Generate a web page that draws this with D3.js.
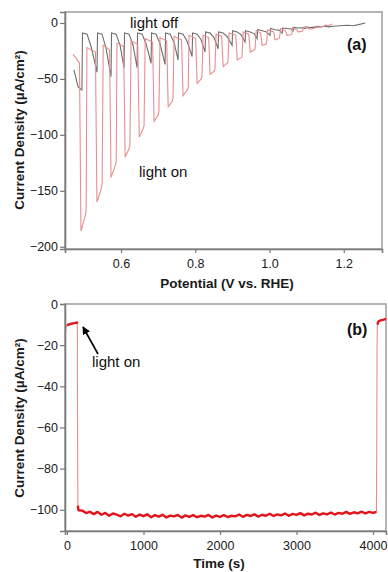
<!DOCTYPE html>
<html><head><meta charset="utf-8">
<script src="https://cdn.jsdelivr.net/npm/d3@7"></script>
<style>
body{margin:0;background:#fff;}
svg{display:block;font-family:"Liberation Sans",Arial,sans-serif;}
</style></head>
<body><svg id="c" width="388" height="572"></svg>
<script>
// ---------- Panel (a) data: potential (V vs RHE), current density (µA/cm²)
const lightChopped = [
[0.470,-28],[0.476,-30],[0.482,-33],[0.488,-36],
[0.492,-186],[0.503,-173],[0.506,-168],[0.508,-22],
[0.531,-26],[0.535,-160],[0.546,-149],[0.549,-144],[0.552,-20],
[0.569,-24],[0.573,-138],[0.584,-128],[0.587,-124],[0.589,-18],
[0.607,-21],[0.611,-120],[0.622,-112],[0.624,-108],[0.627,-16],
[0.645,-19],[0.649,-102],[0.659,-95],[0.662,-92],[0.665,-14],
[0.685,-17],[0.689,-88],[0.700,-82],[0.702,-79],[0.705,-13],
[0.723,-16],[0.727,-75],[0.738,-70],[0.740,-67],[0.743,-12],
[0.763,-15],[0.767,-65],[0.778,-60],[0.781,-58],[0.783,-11],
[0.801,-14],[0.805,-54],[0.816,-50],[0.818,-48],[0.821,-11],
[0.836,-13],[0.840,-46],[0.851,-43],[0.853,-41],[0.856,-10],
[0.871,-12],[0.875,-39],[0.886,-36],[0.888,-35],[0.891,-9],
[0.909,-11],[0.913,-33],[0.924,-31],[0.926,-30],[0.929,-8],
[0.944,-10],[0.948,-26],[0.959,-24],[0.961,-23],[0.964,-7],
[0.976,-9],[0.980,-20],[0.990,-19],[0.992,-18],[0.995,-6],
[1.011,-8],[1.015,-15],[1.025,-14],[1.027,-13],[1.030,-5],
[1.043,-7],[1.047,-11],[1.057,-10.5],[1.060,-10],[1.062,-4],
[1.073,-6],[1.077,-8],[1.087,-7.5],[1.089,-7],[1.092,-3.5],
[1.105,-5],[1.109,-5.5],[1.118,-5],[1.120,-5],[1.123,-3],
[1.132,-4],[1.136,-3.5],[1.145,-3],[1.147,-3],[1.150,-2],
[1.158,-2.5],[1.164,-1.5],[1.169,-1]
];
const darkCurve = [
[0.473,-42],[0.479,-50],[0.484,-57],[0.4945,-60],
[0.4962,-9],[0.5084,-10],[0.5192,-21],[0.5353,-44],
[0.5366,-9],[0.5488,-10],[0.5596,-22.7],[0.5730,-48],
[0.5743,-9],[0.5865,-10],[0.5973,-19.9],[0.6081,-40],
[0.6094,-9],[0.6216,-10],[0.6324,-19.9],[0.6431,-40],
[0.6444,-9],[0.6566,-10],[0.6674,-18.5],[0.6809,-36],
[0.6822,-9],[0.6944,-10],[0.7052,-18.8],[0.7186,-37],
[0.7199,-9],[0.7321,-10],[0.7429,-17.4],[0.7536,-33],
[0.7549,-9],[0.7671,-10],[0.7779,-16.4],[0.7914,-30],
[0.7927,-9],[0.8049,-10],[0.8157,-15],[0.8264,-26],
[0.8277,-8],[0.8399,-9],[0.8507,-13.3],[0.8615,-23],
[0.8628,-8],[0.8750,-9],[0.8858,-12.2],[0.8992,-20],
[0.9005,-7],[0.9127,-8],[0.9235,-10.5],[0.9342,-17],
[0.9355,-7],[0.9477,-8],[0.9585,-9.5],[0.9666,-14],
[0.9679,-6],[0.9801,-7],[0.9909,-7.8],[1.0016,-11],
[1.0029,-5],[1.0151,-6],[1.0259,-6.4],[1.0340,-9],
[1.0353,-4.5],[1.0475,-5],[1.0583,-5.4],[1.0636,-7],
[1.0649,-4],[1.0771,-4.5],[1.0879,-4.4],[1.0960,-5],
[1.0973,-3.5],[1.1095,-4],[1.1203,-3.7],[1.1256,-4],
[1.1269,-3],[1.139,-3.5],[1.150,-3],[1.160,-3.5],
[1.170,-3],[1.190,-2.5],[1.210,-2],[1.225,-2.5],[1.240,-1.5],[1.258,0]
];
const potentialTicks = [0.6, 0.8, 1.0, 1.2];
const currentTicksA = [0, -50, -100, -150, -200];

// ---------- Panel (b) data: time (s), current density (µA/cm²)
const chronoTime = [-25,-18,-10,0,20,50,80,110,130,135,138,142,150,
 200,250,300,350,400,450,500,550,600,650,700,750,800,850,900,950,1000,
 1050,1100,1150,1200,1250,1300,1350,1400,1450,1500,1550,1600,1650,1700,1750,1800,1850,1900,1950,2000,
 2050,2100,2150,2200,2250,2300,2350,2400,2450,2500,2550,2600,2650,2700,2750,2800,2850,2900,2950,3000,
 3050,3100,3150,3200,3250,3300,3350,3400,3450,3500,3550,3600,3650,3700,3750,3800,3850,3900,3950,4000,
 4030,4045,4050,4053,4058,4070,4100,4140,4170];
const chronoCurrent = [-20,-13,-11,-10.5,-10,-9.6,-9.4,-9.2,-9,-9.6,-60,-98,-100.2,
 -100.4,-101.6,-100.9,-102.1,-101.0,-102.4,-101.5,-102.9,-101.8,-102.3,-103.2,-101.9,-102.8,-102.1,-103.4,-102.3,-103.1,
 -102.2,-103.6,-102.6,-103.3,-102.4,-103.7,-102.8,-103.2,-102.5,-103.8,-102.7,-103.4,-102.6,-103.6,-102.9,-103.3,-102.5,-103.7,-102.8,-103.4,
 -102.6,-103.5,-102.9,-103.2,-102.3,-103.4,-102.5,-103.0,-102.2,-103.3,-102.4,-102.9,-101.9,-103.0,-102.2,-102.7,-101.8,-102.9,-102.0,-102.5,
 -101.6,-102.7,-101.9,-102.3,-101.4,-102.5,-101.7,-102.2,-101.3,-102.3,-101.5,-101.9,-101.0,-102.0,-101.2,-101.7,-100.9,-101.8,-101.0,-101.5,
 -101.2,-101.0,-60,-20,-10,-8.5,-8,-7.6,-7.2];
const timeTicks = [0, 1000, 2000, 3000, 4000];
const currentTicksB = [0, -20, -40, -60, -80, -100];

// ---------- drawing
const svg = d3.select("#c");
const axisColor = "#7a7a7a", frameColor = "#a3a3a3", textColor = "#1a1a1a";

function styleAxis(g){
  g.select(".domain").attr("stroke", axisColor).attr("stroke-width", 1.6);
  g.selectAll(".tick line").attr("stroke", axisColor).attr("stroke-width", 1.2);
  g.selectAll(".tick text").attr("fill", textColor).style("font-size", "12.5px")
    .style("font-family", '"Liberation Sans",Arial,sans-serif');
}

// Panel (a)
const A = {l:65, r:382, t:12, b:249};
const xA = d3.scaleLinear().domain([0.449, 1.303]).range([A.l, A.r]);
const yA = d3.scaleLinear().domain([-202, 9.8]).range([A.b, A.t]);
svg.append("rect").attr("x", A.l).attr("y", A.t).attr("width", A.r - A.l).attr("height", A.b - A.t)
  .attr("fill", "none").attr("stroke", frameColor).attr("stroke-width", 1.6);
const lineA = d3.line().x(d => xA(d[0])).y(d => yA(d[1]));
svg.append("path").datum(darkCurve).attr("d", lineA).attr("fill", "none")
  .attr("stroke", "#6e6e6e").attr("stroke-width", 1.1);
svg.append("path").datum(lightChopped).attr("d", lineA).attr("fill", "none")
  .attr("stroke", "#e88e8e").attr("stroke-width", 1.1);
svg.append("g").attr("transform", `translate(${A.l},0)`)
  .call(d3.axisLeft(yA).tickValues(currentTicksA).tickSize(5).tickPadding(2)).call(styleAxis);
svg.append("g").attr("transform", `translate(0,${A.b})`)
  .call(d3.axisBottom(xA).tickValues(potentialTicks).tickFormat(d3.format(".1f")).tickSize(4).tickPadding(6)).call(styleAxis);

svg.append("text").attr("x", 227).attr("y", 288).attr("text-anchor", "middle")
  .style("font-weight", "bold").style("font-size", "13.5px").attr("fill", textColor)
  .text("Potential (V vs. RHE)");
svg.append("text").attr("transform", "translate(24,130) rotate(-90)").attr("text-anchor", "middle")
  .style("font-weight", "bold").style("font-size", "13.5px").attr("fill", textColor)
  .text("Current Density (µA/cm²)");
svg.append("text").attr("x", 347).attr("y", 50).style("font-weight", "bold").style("font-size", "16px")
  .attr("fill", "#111").text("(a)");
svg.append("text").attr("x", 130).attr("y", 28).style("font-size", "15px").attr("fill", "#111").text("light off");
svg.append("text").attr("x", 139).attr("y", 177).style("font-size", "15px").attr("fill", "#111").text("light on");

// Panel (b)
const B = {l:65, r:386, t:304, b:531};
const xB = d3.scaleLinear().domain([-26, 4170]).range([B.l, B.r]);
const yB = d3.scaleLinear().domain([-110.3, 0]).range([B.b, B.t]);
svg.append("rect").attr("x", B.l).attr("y", B.t).attr("width", B.r - B.l).attr("height", B.b - B.t)
  .attr("fill", "none").attr("stroke", frameColor).attr("stroke-width", 1.6);
const chrono = chronoTime.map((t, i) => [t, chronoCurrent[i]]);
const lineB = d3.line().x(d => xB(d[0])).y(d => yB(d[1]));
svg.append("path").datum(chrono).attr("d", lineB).attr("fill", "none")
  .attr("stroke", "#ef8a8a").attr("stroke-width", 1.1);
const lineBsteady = d3.line().defined(d => d[1] < -97 || d[1] > -11).x(d => xB(d[0])).y(d => yB(d[1]));
svg.append("path").datum(chrono).attr("d", lineBsteady).attr("fill", "none")
  .attr("stroke", "#e3141c").attr("stroke-width", 2.4).attr("stroke-linejoin", "round");
svg.append("g").attr("transform", `translate(${B.l},0)`)
  .call(d3.axisLeft(yB).tickValues(currentTicksB).tickSize(5).tickPadding(2)).call(styleAxis);
svg.append("g").attr("transform", `translate(0,${B.b})`)
  .call(d3.axisBottom(xB).tickValues(timeTicks).tickFormat(d3.format("d")).tickSize(4).tickPadding(6)).call(styleAxis);

svg.append("text").attr("x", 219).attr("y", 568).attr("text-anchor", "middle")
  .style("font-weight", "bold").style("font-size", "13.5px").attr("fill", textColor).text("Time (s)");
svg.append("text").attr("transform", "translate(24,418) rotate(-90)").attr("text-anchor", "middle")
  .style("font-weight", "bold").style("font-size", "13.5px").attr("fill", textColor)
  .text("Current Density (µA/cm²)");
svg.append("text").attr("x", 347).attr("y", 335).style("font-weight", "bold").style("font-size", "16px")
  .attr("fill", "#111").text("(b)");
svg.append("text").attr("x", 92).attr("y", 367).style("font-size", "15px").attr("fill", "#111").text("light on");
// arrow
svg.append("defs").append("marker").attr("id", "ah").attr("viewBox", "0 0 10 10").attr("refX", 9).attr("refY", 5)
  .attr("markerWidth", 5).attr("markerHeight", 5).attr("orient", "auto")
  .append("path").attr("d", "M0,0 L10,5 L0,10 z").attr("fill", "#000");
svg.append("line").attr("x1", 98).attr("y1", 354).attr("x2", 83).attr("y2", 327)
  .attr("stroke", "#000").attr("stroke-width", 1.6).attr("marker-end", "url(#ah)");
</script></body></html>
